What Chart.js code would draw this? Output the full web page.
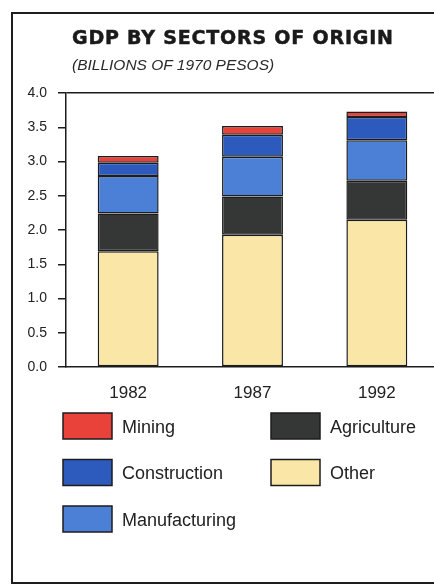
<!DOCTYPE html>
<html>
<head>
<meta charset="utf-8">
<script src="https://cdn.jsdelivr.net/npm/chart.js@4.4.0/dist/chart.umd.min.js"></script>
<style>
  html, body { margin: 0; padding: 0; width: 434px; height: 585px; overflow: hidden; background: #fff; }
  .frame { position: absolute; left: 11px; top: 12px; width: 470px; height: 568px; border: 2px solid #1e1e1e; }
  .title { position: absolute; left: 72px; top: 28px; font: bold 19px/19px "DejaVu Sans", sans-serif; letter-spacing: 0.8px; color: #1a1a1a; -webkit-text-stroke: 0.5px #1a1a1a; white-space: nowrap; }
  .subtitle { position: absolute; left: 72px; top: 57px; font: italic 15.5px/16px "Liberation Sans", Arial, sans-serif; color: #2a2a2a; white-space: nowrap; }
  canvas { position: absolute; left: 0; top: 0; }
</style>
</head>
<body>
<div class="frame"></div>
<canvas id="gdpChart" width="470" height="585"></canvas>
<div class="title">GDP BY SECTORS OF ORIGIN</div>
<div class="subtitle">(BILLIONS OF 1970 PESOS)</div>
<script>
// data (billions of 1970 pesos)
const years = ["1982", "1987", "1992"];
const other = [1.69, 1.93, 2.15];
const agriculture = [0.55, 0.56, 0.57];
const manufacturing = [0.55, 0.58, 0.59];
const construction = [0.19, 0.32, 0.34];
const mining = [0.10, 0.13, 0.08];
const yTicks = [0, 0.5, 1.0, 1.5, 2.0, 2.5, 3.0, 3.5, 4.0];
const legendOrder = ["Mining", "Agriculture", "Construction", "Other", "Manufacturing"];

const ink = "#1c1c1c";

// legend drawn in two columns under the chart
const boxLegend = {
    id: "boxLegend",
    afterDraw(chart) {
        const ctx = chart.ctx;
        ctx.save();
        legendOrder.forEach((name, i) => {
            const ds = chart.data.datasets.find(d => d.label === name);
            const col = i % 2;
            const row = Math.floor(i / 2);
            const x = col ? 271 : 63;
            const y = 413 + row * 46.5;
            ctx.fillStyle = ds.backgroundColor;
            ctx.fillRect(x, y, 49, 26);
            ctx.strokeStyle = ink;
            ctx.lineWidth = 1.5;
            ctx.strokeRect(x, y, 49, 26);
            ctx.fillStyle = "#222";
            ctx.font = '18px "Liberation Sans", Arial, sans-serif';
            ctx.textBaseline = "middle";
            ctx.textAlign = "left";
            ctx.fillText(name, x + 59, y + 15);
        });
        ctx.restore();
    }
};

function makeSet(label, values, color) {
    return {
        label: label,
        data: values,
        backgroundColor: color,
        borderColor: ink,
        borderWidth: 1.5,
        borderSkipped: false
    };
}

new Chart(document.getElementById("gdpChart"), {
    type: "bar",
    data: {
        labels: years,
        datasets: [
            makeSet("Other", other, "#fae6a6"),
            makeSet("Agriculture", agriculture, "#343736"),
            makeSet("Manufacturing", manufacturing, "#4c80d6"),
            makeSet("Construction", construction, "#2d5bbd"),
            makeSet("Mining", mining, "#e8423b")
        ]
    },
    options: {
        responsive: false,
        animation: false,
        categoryPercentage: 1,
        barPercentage: 0.49,
        layout: { padding: { top: 93, right: 31, bottom: 173, left: 0 } },
        plugins: {
            legend: { display: false },
            tooltip: { enabled: false }
        },
        scales: {
            x: {
                stacked: true,
                grid: { display: false, drawTicks: false },
                border: { display: true, color: ink, width: 1.5 },
                ticks: {
                    color: "#222",
                    padding: 16,
                    font: { family: '"Liberation Sans", Arial, sans-serif', size: 17 }
                },
                afterFit: scale => { scale.height = 45; }
            },
            y: {
                stacked: true,
                min: 0,
                max: 4,
                afterBuildTicks: scale => { scale.ticks = yTicks.map(v => ({ value: v })); },
                grid: {
                    drawOnChartArea: true,
                    color: c => (c.tick && c.tick.value === 4 ? ink : "transparent"),
                    tickColor: ink,
                    tickLength: 8,
                    lineWidth: 1.5
                },
                border: { display: true, color: ink, width: 1.5 },
                ticks: {
                    color: "#222",
                    padding: 11,
                    font: { family: '"Liberation Sans", Arial, sans-serif', size: 14 },
                    callback: v => Number(v).toFixed(1)
                },
                afterFit: scale => { scale.width = 66; }
            }
        }
    },
    plugins: [boxLegend]
});
</script>
</body>
</html>
